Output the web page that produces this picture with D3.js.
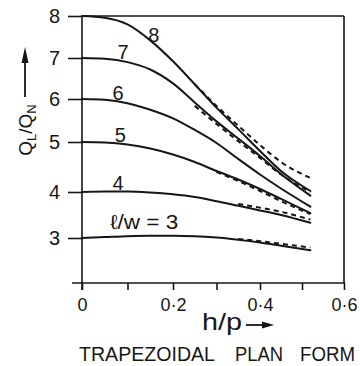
<!DOCTYPE html>
<html>
<head>
<meta charset="utf-8">
<script src="https://cdn.jsdelivr.net/npm/d3@7"></script>
<style>
  html, body { margin: 0; padding: 0; background: #fff; }
  svg { display: block; }
  text { font-family: "Liberation Sans", Arial, sans-serif; fill: #161616; }
</style>
</head>
<body>
<svg id="chart" width="360" height="366"></svg>
<script>
// Relative discharge Q_L/Q_N against h/p for several l/w ratios
const hp      = [0, 0.05, 0.1, 0.15, 0.2, 0.25, 0.3, 0.35, 0.4, 0.45, 0.52];
const ratio8  = [8.0, 7.96, 7.8, 7.42, 6.92, 6.36, 5.8, 5.3, 4.82, 4.42, 4.02];
const ratio7  = [7.0, 6.98, 6.9, 6.72, 6.38, 5.92, 5.48, 5.08, 4.72, 4.36, 3.92];
const ratio6  = [6.0, 5.98, 5.9, 5.75, 5.55, 5.28, 4.98, 4.66, 4.35, 4.07, 3.68];
const ratio5  = [5.0, 4.99, 4.95, 4.87, 4.75, 4.6, 4.42, 4.25, 4.06, 3.85, 3.54];
const ratio4  = [4.0, 4.01, 4.01, 3.99, 3.95, 3.89, 3.8, 3.7, 3.6, 3.5, 3.33];
const ratio3  = [3.0, 3.02, 3.04, 3.05, 3.05, 3.04, 3.01, 2.96, 2.9, 2.83, 2.73];

// Companion (dashed) curves over the upper h/p range
const dashHp8 = [0.25, 0.3, 0.35, 0.4, 0.45, 0.52];
const dashed8 = [6.36, 5.84, 5.38, 4.94, 4.6, 4.28];
const dashHp7 = [0.25, 0.3, 0.35, 0.4, 0.45, 0.52];
const dashed7 = [5.84, 5.42, 5.02, 4.68, 4.35, 4.0];
const dashHp5 = [0.3, 0.35, 0.4, 0.45, 0.52];
const dashed5 = [4.4, 4.22, 4.02, 3.8, 3.52];
const dashHp4 = [0.35, 0.4, 0.45, 0.52];
const dashed4 = [3.74, 3.66, 3.57, 3.4];
const dashHp3 = [0.35, 0.4, 0.45, 0.52];
const dashed3 = [2.98, 2.93, 2.87, 2.79];

const curveNames = ["8", "7", "6", "5", "4"];
const yTicks = [3, 4, 5, 6, 7, 8];
const xTicks = [0, 0.1, 0.2, 0.3, 0.4, 0.5, 0.6];
const xTickLabels = { 0: "0", 0.2: "0·2", 0.4: "0·4", 0.6: "0·6" };
const titleWords = ["TRAPEZOIDAL", "PLAN", "FORM"];

const ink = "#161616";
const svg = d3.select("#chart");

// Drafted axes are not perfectly even, so the scales follow the ruled divisions
const x = d3.scaleLinear().domain([0, 0.2, 0.4, 0.6]).range([82, 173, 260, 344]);
const y = d3.scaleLinear().domain([2, 3, 4, 5, 6, 7, 8]).range([283, 238, 192, 142, 99, 58, 16]);

// Frame
const frame = svg.append("g").attr("stroke", ink).attr("stroke-width", 1.6).attr("fill", "none");
frame.append("line").attr("x1", x(0)).attr("x2", x(0)).attr("y1", y(8)).attr("y2", y(2) + 7);
frame.append("line").attr("x1", x(0) - 10).attr("x2", x(0.6) + 1).attr("y1", y(2)).attr("y2", y(2));
frame.append("line").attr("x1", x(0)).attr("x2", x(0.6)).attr("y1", y(8)).attr("y2", y(8));
frame.append("line").attr("x1", x(0.6)).attr("x2", x(0.6)).attr("y1", y(8)).attr("y2", y(2));

// Left axis
const yAxis = svg.append("g")
  .attr("transform", `translate(${x(0)},0)`)
  .call(d3.axisLeft(y).tickValues(yTicks).tickSizeInner(14).tickSizeOuter(0).tickPadding(8).tickFormat(d3.format("d")));
yAxis.select(".domain").remove();
yAxis.selectAll(".tick line").attr("stroke", ink).attr("stroke-width", 1.6);
yAxis.selectAll(".tick text").attr("font-size", 20).attr("fill", ink)
  .attr("font-family", "Liberation Sans, Arial, sans-serif");

// Bottom axis
const xAxis = svg.append("g")
  .attr("transform", `translate(0,${y(2)})`)
  .call(d3.axisBottom(x).tickValues(xTicks).tickSizeInner(7).tickSizeOuter(0).tickPadding(8)
    .tickFormat(d => xTickLabels[d] !== undefined ? xTickLabels[d] : ""));
xAxis.select(".domain").remove();
xAxis.selectAll(".tick line").attr("stroke", ink).attr("stroke-width", 1.6);
xAxis.selectAll(".tick text").attr("font-size", 18).attr("fill", ink)
  .attr("font-family", "Liberation Sans, Arial, sans-serif");

// Curves
const line = d3.line().x(d => x(d[0])).y(d => y(d[1])).curve(d3.curveMonotoneX);
const solid = [ratio8, ratio7, ratio6, ratio5, ratio4, ratio3];
const curves = svg.append("g").attr("fill", "none").attr("stroke", ink)
  .attr("stroke-width", 2).attr("stroke-linecap", "round");
solid.forEach(vals => {
  curves.append("path").attr("d", line(d3.zip(hp, vals)));
});

const dashedSets = [[dashHp8, dashed8], [dashHp7, dashed7], [dashHp5, dashed5], [dashHp4, dashed4], [dashHp3, dashed3]];
const dashes = svg.append("g").attr("fill", "none").attr("stroke", ink)
  .attr("stroke-width", 2).attr("stroke-dasharray", "5 4");
dashedSets.forEach(([xs, vals]) => {
  dashes.append("path").attr("d", line(d3.zip(xs, vals)));
});

// Curve labels sit just above each curve
const interp = vals => d3.scaleLinear().domain(hp).range(vals);
const labelAt = [0.158, 0.09, 0.079, 0.084, 0.079];
curveNames.forEach((name, i) => {
  const hx = labelAt[i];
  svg.append("text")
    .attr("x", x(hx)).attr("y", y(interp(solid[i])(hx)) - 2)
    .attr("text-anchor", "middle").attr("font-size", 20)
    .text(name);
});
svg.append("text")
  .attr("x", x(0.062)).attr("y", y(3.2))
  .attr("font-size", 20)
  .attr("textLength", 68).attr("lengthAdjust", "spacingAndGlyphs")
  .text("ℓ/w = 3");

// Y-axis title with arrow
const yTitle = svg.append("text")
  .attr("transform", "translate(32,130) rotate(-90)")
  .attr("text-anchor", "middle").attr("font-size", 19);
yTitle.append("tspan").text("Q");
yTitle.append("tspan").attr("font-size", 13).attr("dy", 4).text("L");
yTitle.append("tspan").attr("dy", -4).text("/Q");
yTitle.append("tspan").attr("font-size", 13).attr("dy", 4).text("N");

svg.append("line").attr("x1", 25).attr("x2", 25).attr("y1", 97).attr("y2", 58)
  .attr("stroke", ink).attr("stroke-width", 1.8);
svg.append("path").attr("d", "M25,47 L21.5,63 L28.5,63 Z").attr("fill", ink);

// X-axis title with arrow
svg.append("text")
  .attr("x", 202).attr("y", 330)
  .attr("font-size", 24)
  .attr("textLength", 40).attr("lengthAdjust", "spacingAndGlyphs")
  .text("h/p");
svg.append("line").attr("x1", 246).attr("x2", 264).attr("y1", 325).attr("y2", 325)
  .attr("stroke", ink).attr("stroke-width", 1.8);
svg.append("path").attr("d", "M274,325 L262,321.5 L262,328.5 Z").attr("fill", ink);

// Caption
const captionSpans = [[79, 136], [235, 48], [300, 55]];
titleWords.forEach((w, i) => {
  svg.append("text")
    .attr("x", captionSpans[i][0]).attr("y", 361)
    .attr("font-size", 20)
    .attr("textLength", captionSpans[i][1]).attr("lengthAdjust", "spacingAndGlyphs")
    .text(w);
});
</script>
</body>
</html>
